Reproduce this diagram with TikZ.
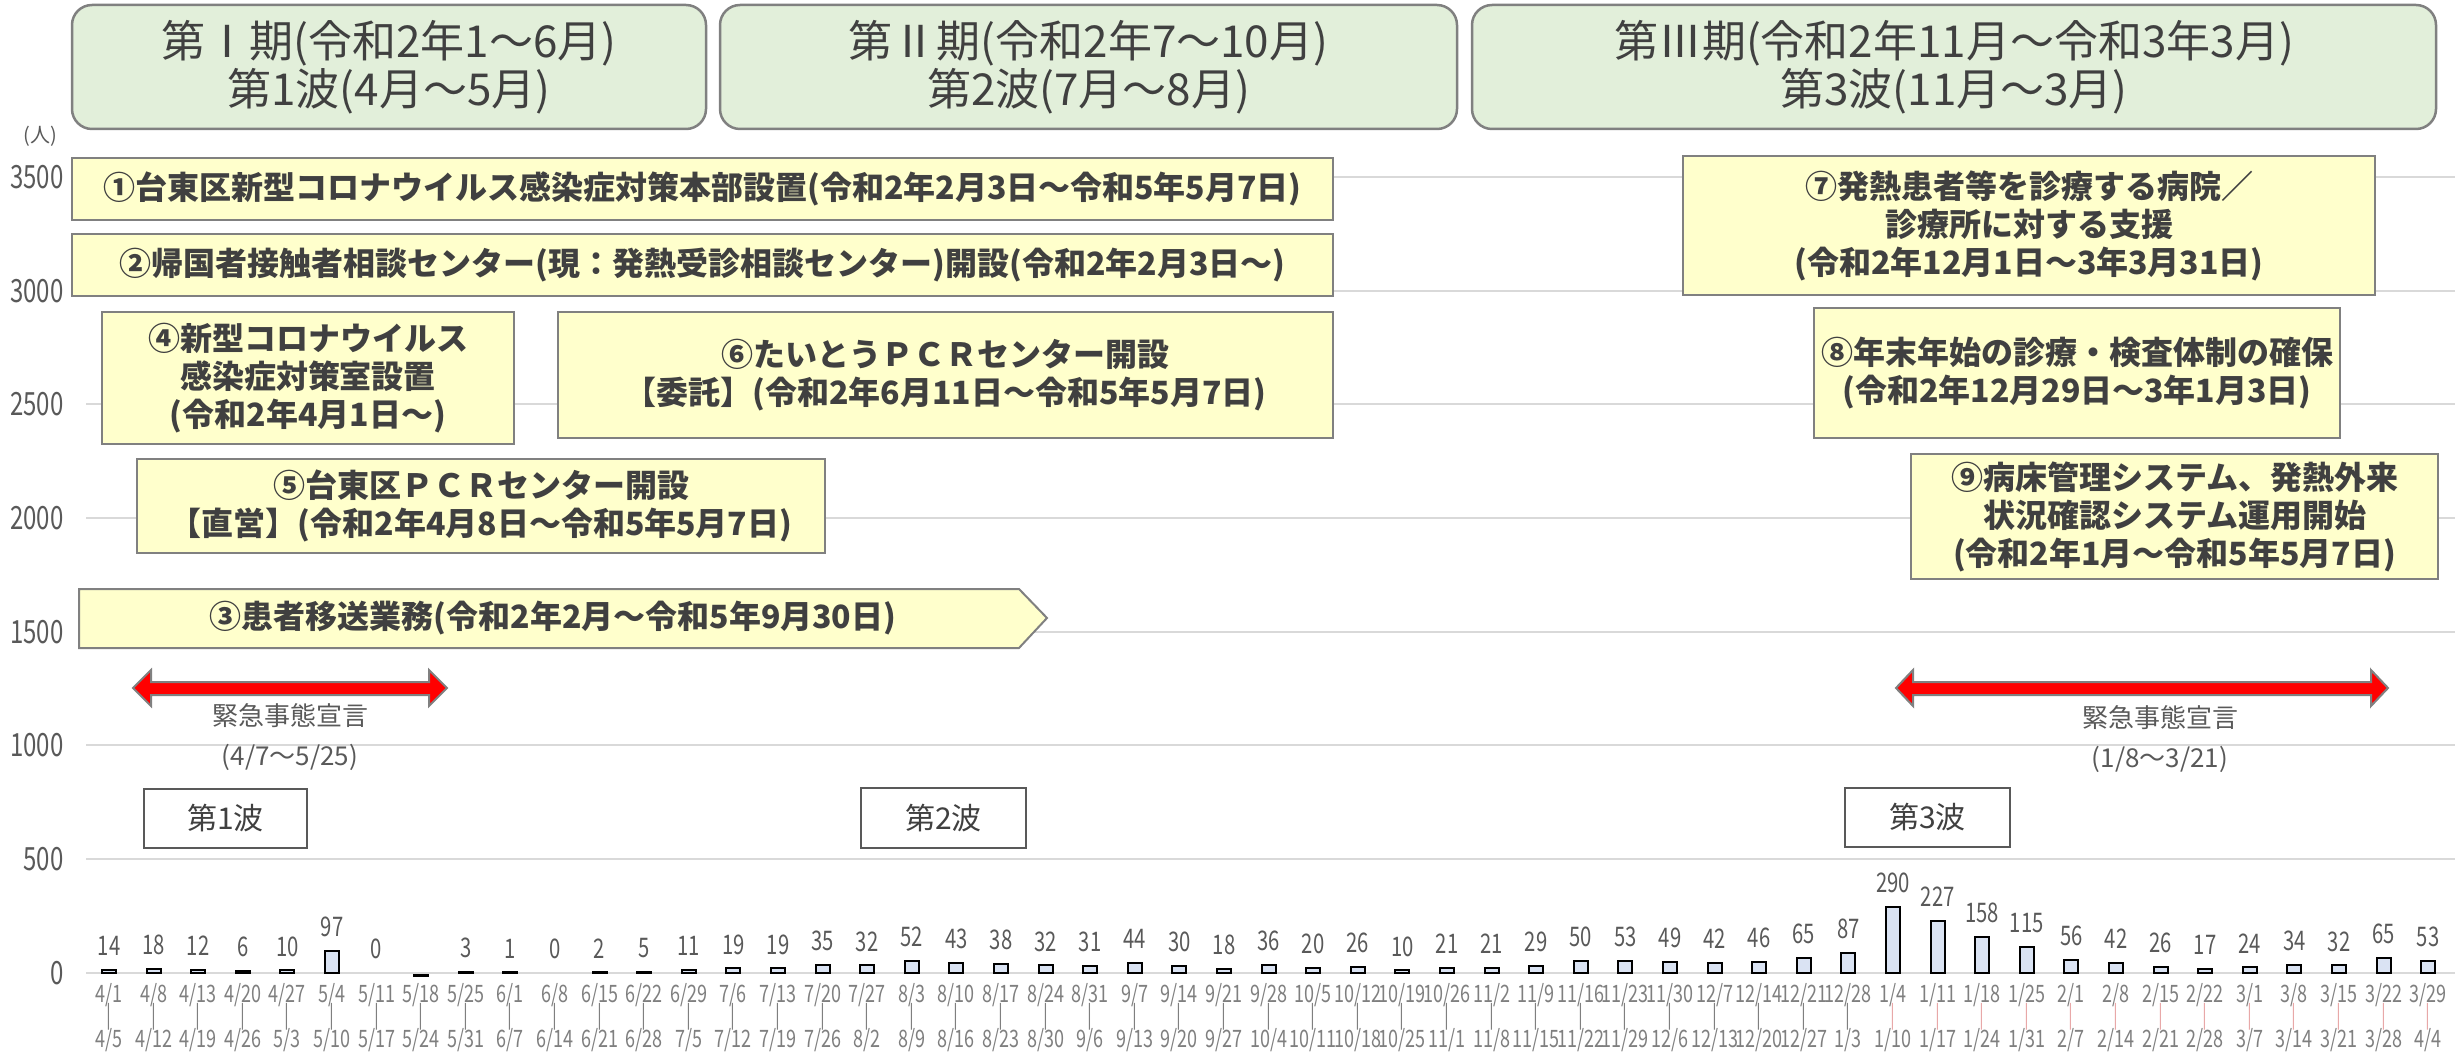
\documentclass[tikz,border=0pt]{standalone}
\usepackage{fontspec}
\setmainfont{Noto Sans CJK JP}
\newfontfamily\numfont[FakeStretch=0.75]{Noto Sans CJK JP}
\definecolor{gridc}{HTML}{D9D9D9}
\definecolor{boxline}{HTML}{808080}
\definecolor{titlefill}{HTML}{E2EFDA}
\definecolor{notefill}{HTML}{FFFFCC}
\definecolor{txt}{HTML}{404040}
\definecolor{axc}{HTML}{595959}
\definecolor{datec}{HTML}{7F7F7F}
\definecolor{sepc}{HTML}{E8A8A8}
\definecolor{barfill}{HTML}{DAE3F3}
\definecolor{wavec}{HTML}{595959}
\tikzset{
  titlebox/.style={draw=boxline, line width=1.25pt, fill=titlefill, rounded corners=10pt, inner sep=0pt, align=center, text=txt, font=\fontsize{22pt}{24pt}\selectfont},
  notebox/.style={draw=boxline, line width=1pt, fill=notefill, inner sep=0pt, align=center, text=txt, font=\fontsize{16pt}{19pt}\selectfont\bfseries},
  notetext/.style={inner sep=0pt, align=center, text=txt, font=\fontsize{16pt}{19pt}\selectfont\bfseries},
  wavebox/.style={draw=wavec, line width=1pt, fill=white, inner sep=0pt, text=txt, font=\fontsize{15pt}{18pt}\selectfont},
  declab/.style={inner sep=0pt, text=axc, font=\fontsize{13pt}{15pt}\selectfont},
  redarrow/.style={fill=red, draw=boxline, line width=1pt, line join=miter},
  gridline/.style={draw=gridc, line width=1pt},
  axlbl/.style={inner sep=0pt, anchor=east, text=axc, font=\numfont\fontsize{16pt}{17pt}\selectfont},
  vallbl/.style={inner sep=0pt, text=axc, font=\numfont\fontsize{13.5pt}{15pt}\selectfont},
  datelbl/.style={inner sep=0pt, text=datec, font=\numfont\fontsize{12pt}{13pt}\selectfont},
  barbox/.style={fill=barfill, draw=black, line width=1pt},
}
\begin{document}
\begin{tikzpicture}[x=0.5pt,y=-0.5pt]
\useasboundingbox (0,0) rectangle (2463,1053);
% grid
\foreach \v in {0,500,...,3500}{
  \pgfmathsetmacro\yy{972.7-0.22735*\v}
  \draw[gridline] (86,\yy) -- (2455,\yy);
  \node[axlbl] (ax\v) at (64,\yy) {\v};
}
\node[inner sep=0pt, text=axc, font=\fontsize{10pt}{12pt}\selectfont] (unit) at (40,136) {(人)};
% bars and values
\foreach \v [count=\i from 0] in {14,18,12,6,10,97,0,0,3,1,0,2,5,11,19,19,35,32,52,43,38,32,31,44,30,18,36,20,26,10,21,21,29,50,53,49,42,46,65,87,290,227,158,115,56,42,26,17,24,34,32,65,53}{
  \pgfmathsetmacro\xx{109+44.6*\i}
  \pgfmathsetmacro\yt{972.7-0.22735*\v}
  \pgfmathsetmacro\yl{\yt-24}
  \ifnum\i=7
    \draw[black, line width=1.5pt] (\xx-8,975) -- (\xx+8,975);
  \else
    \ifnum\v>0
      \draw[barbox] (\xx-7,972.7) rectangle (\xx+7,\yt);
    \fi
    \node[vallbl] (val\i) at (\xx,\yl) {\v};
  \fi
}
% dates
\foreach \d [count=\i from 0] in {4/1,4/8,4/13,4/20,4/27,5/4,5/11,5/18,5/25,6/1,6/8,6/15,6/22,6/29,7/6,7/13,7/20,7/27,8/3,8/10,8/17,8/24,8/31,9/7,9/14,9/21,9/28,10/5,10/12,10/19,10/26,11/2,11/9,11/16,11/23,11/30,12/7,12/14,12/21,12/28,1/4,1/11,1/18,1/25,2/1,2/8,2/15,2/22,3/1,3/8,3/15,3/22,3/29}{
  \pgfmathsetmacro\xx{109+44.6*\i}
  \node[datelbl] (da\i) at (\xx,995) {\d};
  \ifnum\i<40
    \node[datelbl] (ds\i) at (\xx,1017) {|};
  \else
    \node[datelbl, text=sepc] (ds\i) at (\xx,1017) {|};
  \fi
}
\foreach \d [count=\i from 0] in {4/5,4/12,4/19,4/26,5/3,5/10,5/17,5/24,5/31,6/7,6/14,6/21,6/28,7/5,7/12,7/19,7/26,8/2,8/9,8/16,8/23,8/30,9/6,9/13,9/20,9/27,10/4,10/11,10/18,10/25,11/1,11/8,11/15,11/22,11/29,12/6,12/13,12/20,12/27,1/3,1/10,1/17,1/24,1/31,2/7,2/14,2/21,2/28,3/7,3/14,3/21,3/28,4/4}{
  \pgfmathsetmacro\xx{109+44.6*\i}
  \node[datelbl] (db\i) at (\xx,1040) {\d};
}
% title boxes
\node[titlebox, minimum width=317pt, minimum height=62pt] (t1) at (389,67) {第Ⅰ期(令和2年1～6月)\\第1波(4月～5月)};
\node[titlebox, minimum width=368.5pt, minimum height=62pt] (t2) at (1088.5,67) {第Ⅱ期(令和2年7～10月)\\第2波(7月～8月)};
\node[titlebox, minimum width=482pt, minimum height=62pt] (t3) at (1954,67) {第Ⅲ期(令和2年11月～令和3年3月)\\第3波(11月～3月)};
% notes
\node[notebox, minimum width=630.5pt, minimum height=31pt] (n1) at (702.5,189) {①台東区新型コロナウイルス感染症対策本部設置(令和2年2月3日～令和5年5月7日)};
\node[notebox, minimum width=630.5pt, minimum height=31pt] (n2) at (702.5,265) {②帰国者接触者相談センター(現：発熱受診相談センター)開設(令和2年2月3日～)};
\node[notebox, minimum width=206pt, minimum height=66pt] (n4) at (308,378) {④新型コロナウイルス\\感染症対策室設置\\(令和2年4月1日～)};
\node[notebox, minimum width=387.5pt, minimum height=63pt] (n6) at (945.5,375) {⑥たいとうＰＣＲセンター開設\\【委託】(令和2年6月11日～令和5年5月7日)};
\node[notebox, minimum width=344pt, minimum height=47pt] (n5) at (481,506) {⑤台東区ＰＣＲセンター開設\\【直営】(令和2年4月8日～令和5年5月7日)};
\draw[draw=boxline, line width=1pt, fill=notefill] (79,589) -- (1019,589) -- (1047,618) -- (1019,648) -- (79,648) -- cycle;
\node[notetext] (n3) at (553,618) {③患者移送業務(令和2年2月～令和5年9月30日)};
\node[notebox, minimum width=346pt, minimum height=69.5pt] (n7) at (2029,225.5) {⑦発熱患者等を診療する病院／\\診療所に対する支援\\(令和2年12月1日～3年3月31日)};
\node[notebox, minimum width=263pt, minimum height=65pt] (n8) at (2077,373) {⑧年末年始の診療・検査体制の確保\\(令和2年12月29日～3年1月3日)};
\node[notebox, minimum width=263.5pt, minimum height=62.5pt] (n9) at (2174.5,516.5) {⑨病床管理システム、発熱外来\\状況確認システム運用開始\\(令和2年1月～令和5年5月7日)};
% emergency declarations
\draw[redarrow] (133,688) -- (151,670) -- (151,682) -- (429,682) -- (429,670) -- (447,688) -- (429,706) -- (429,695) -- (151,695) -- (151,706) -- cycle;
\node[declab] (e1a) at (290,716) {緊急事態宣言};
\node[declab] (e1b) at (290,757) {(4/7～5/25)};
\draw[redarrow] (1896,688) -- (1913,670) -- (1913,682) -- (2371,682) -- (2371,670) -- (2388,688) -- (2371,706) -- (2371,695) -- (1913,695) -- (1913,706) -- cycle;
\node[declab] (e2a) at (2160,718) {緊急事態宣言};
\node[declab] (e2b) at (2160,759) {(1/8～3/21)};
% wave labels
\node[wavebox, minimum width=81.5pt, minimum height=29.5pt] (w1) at (225.5,818.5) {第1波};
\node[wavebox, minimum width=82.5pt, minimum height=30pt] (w2) at (943.5,818) {第2波};
\node[wavebox, minimum width=82.5pt, minimum height=29.5pt] (w3) at (1927.5,817.5) {第3波};
\end{tikzpicture}
\end{document}
